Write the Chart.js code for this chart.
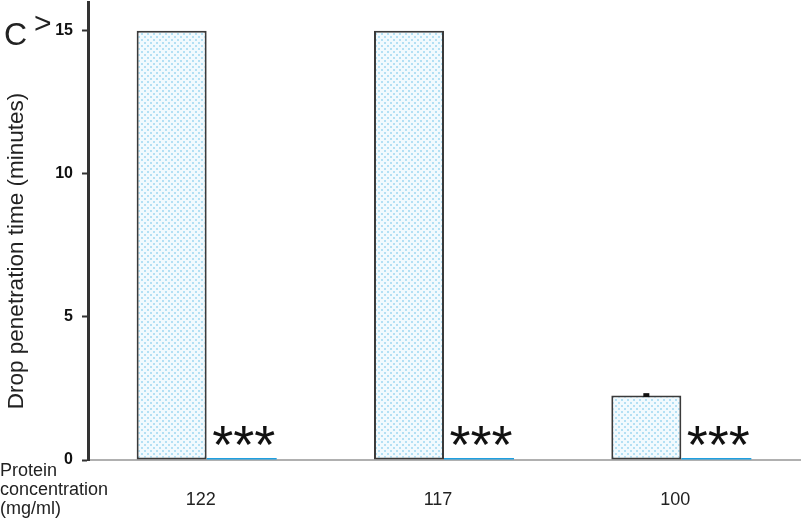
<!DOCTYPE html>
<html>
<head>
<meta charset="utf-8">
<script src="https://cdn.jsdelivr.net/npm/chart.js@4.4.1/dist/chart.umd.min.js"></script>
<style>
  html, body { margin: 0; padding: 0; background: #fff; }
  #wrap { width: 806px; height: 520px; position: relative; }
</style>
</head>
<body>
<div id="wrap"><canvas id="chart" width="806" height="520"></canvas></div>
<script>
// data
const categories = ["122", "117", "100"];
const penetrationTime = [15, 15, 2.25];     // capped at ">15"
const penetrationError = [0, 0, 0.05];
const controlTime = [0.07, 0.07, 0.07];     // flat blue bars
const starLabels = ["***", "***", "***"];
const yTicks = [0, 5, 10, 15];

// dotted light-blue fill like the original
function dotPattern() {
  const c = document.createElement("canvas");
  c.width = 6; c.height = 6;
  const g = c.getContext("2d");
  g.fillStyle = "#f1fafe";
  g.fillRect(0, 0, 6, 6);
  g.fillStyle = "#b3e0f4";
  g.fillRect(0, 0, 2, 2);
  g.fillRect(3, 3, 2, 2);
  return g.createPattern(c, "repeat");
}

const extras = {
  id: "extras",
  afterDatasetsDraw(chart) {
    const ctx = chart.ctx;
    const y = chart.scales.y;
    const metaA = chart.getDatasetMeta(0);
    const metaB = chart.getDatasetMeta(1);

    // error bars
    ctx.save();
    ctx.fillStyle = "#111";
    metaA.data.forEach((bar, i) => {
      const e = penetrationError[i];
      if (!e) return;
      const top = y.getPixelForValue(penetrationTime[i] + e);
      const bot = y.getPixelForValue(penetrationTime[i] - e);
      ctx.fillRect(bar.x - 3, top - 1, 6, Math.max(3, bot - top + 1));
    });

    // significance stars
    ctx.font = "54px 'Liberation Sans', Arial, sans-serif";
    ctx.textAlign = "center";
    ctx.textBaseline = "alphabetic";
    metaB.data.forEach((bar, i) => {
      const m = ctx.measureText(starLabels[i]);
      const base = 445 - m.actualBoundingBoxDescent;
      ctx.fillStyle = "#111";
      ctx.fillText(starLabels[i], bar.x + 2, base);
    });
    ctx.restore();

    // panel letter and ">" marker
    ctx.save();
    ctx.textAlign = "left";
    ctx.textBaseline = "alphabetic";
    ctx.font = "32px 'Liberation Sans', Arial, sans-serif";
    ctx.fillStyle = "#222";
    ctx.fillText("C", 4, 45);
    ctx.font = "30px 'Liberation Sans', Arial, sans-serif";
    ctx.fillText(">", 34, 33);
    ctx.restore();

    // x axis caption
    ctx.save();
    ctx.font = "18px 'Liberation Sans', Arial, sans-serif";
    ctx.fillStyle = "#222";
    ctx.textAlign = "left";
    ctx.textBaseline = "middle";
    ["Protein", "concentration", "(mg/ml)"].forEach((t, i) => {
      ctx.fillText(t, 0, 471 + i * 19);
    });

    // y axis title
    ctx.translate(17, 251);
    ctx.rotate(-Math.PI / 2);
    ctx.textAlign = "center";
    ctx.font = "22.5px 'Liberation Sans', Arial, sans-serif";
    ctx.fillText("Drop penetration time (minutes)", 0, 0);
    ctx.restore();
  }
};

new Chart(document.getElementById("chart"), {
  type: "bar",
  data: {
    labels: categories,
    datasets: [
      {
        label: "Drop penetration time",
        data: penetrationTime,
        backgroundColor: dotPattern(),
        borderColor: "#3a3a3a",
        borderWidth: 2,
        borderSkipped: false
      },
      {
        label: "Control",
        data: controlTime,
        backgroundColor: "#1f9fe0",
        borderWidth: 0
      }
    ]
  },
  options: {
    responsive: false,
    animation: false,
    layout: { padding: { top: 2, right: 6, left: 0, bottom: 0 } },
    plugins: {
      legend: { display: false },
      tooltip: { enabled: false }
    },
    datasets: {
      bar: { categoryPercentage: 0.59, barPercentage: 1.0 }
    },
    scales: {
      x: {
        grid: { display: false },
        border: { color: "#b0b0b0", width: 2 },
        ticks: {
          color: "#222",
          padding: 21,
          labelOffset: -6,
          font: { family: "'Liberation Sans', Arial, sans-serif", size: 18 }
        },
        afterFit(scale) {
          scale.height = 60;
          scale.paddingLeft = 0;
          scale.paddingRight = 0;
        }
      },
      y: {
        min: 0,
        max: 16,
        afterBuildTicks(scale) {
          scale.ticks = yTicks.map(v => ({ value: v }));
        },
        grid: {
          drawOnChartArea: false,
          tickLength: 6,
          tickWidth: 2,
          color: "#333"
        },
        border: { color: "#333", width: 3 },
        ticks: {
          color: "#111",
          padding: 9,
          font: { family: "'Liberation Sans', Arial, sans-serif", size: 16, weight: "bold" }
        },
        afterFit(scale) {
          scale.width = 88;
          scale.paddingTop = 0;
          scale.paddingBottom = 0;
        }
      }
    }
  },
  plugins: [extras]
});
</script>
</body>
</html>
